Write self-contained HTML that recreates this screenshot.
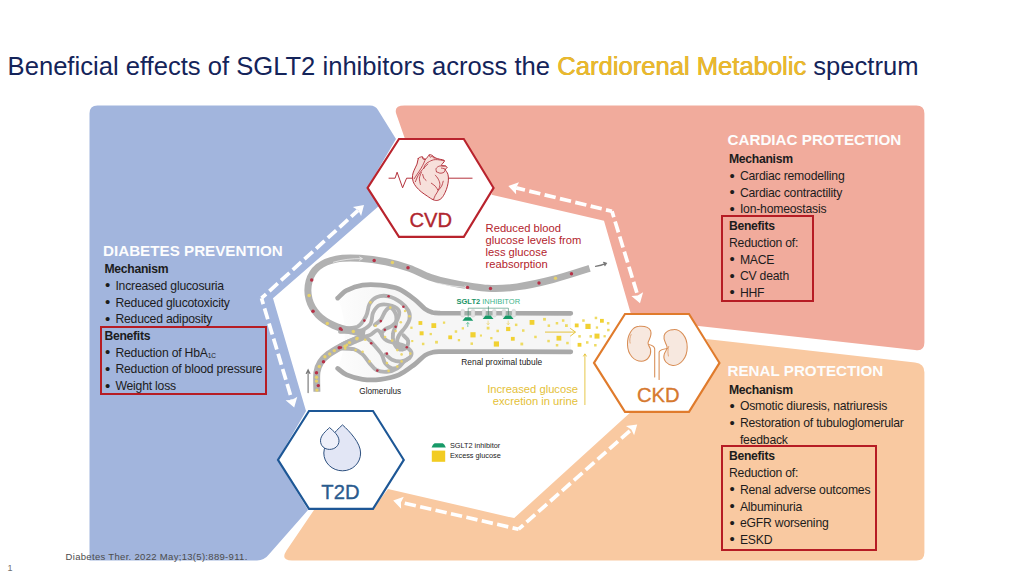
<!DOCTYPE html>
<html>
<head>
<meta charset="utf-8">
<title>SGLT2 inhibitors</title>
<style>
html,body{margin:0;padding:0;background:#fff;}
body{width:1024px;height:576px;overflow:hidden;position:relative;font-family:"Liberation Sans",sans-serif;}
svg{position:absolute;left:0;top:0;}
svg text{font-family:"Liberation Sans",sans-serif;}
.title{position:absolute;left:7.6px;top:51.1px;font-size:25.6px;color:#14245a;white-space:nowrap;line-height:30px;}
.title b{font-weight:normal;color:#eab92e;text-shadow:0.4px 0.4px 0.6px rgba(190,150,40,0.9),-0.2px 0 0 #f0c84e;}
.blk{position:absolute;font-size:12.2px;line-height:16.7px;color:#1c1c1c;white-space:nowrap;letter-spacing:-0.2px;}
.blk .h{font-weight:bold;font-size:15.2px;color:#fdfdfd;letter-spacing:0;display:block;line-height:19px;margin-left:-1.5px;}
.blk i{font-style:normal;display:inline-block;width:10.9px;font-size:15px;line-height:0;vertical-align:-0.5px;padding-left:0.5px;box-sizing:border-box;}
.blk b{letter-spacing:-0.3px;}
.blk b{font-weight:bold;}
.blk .b{display:block;padding-left:0;}
.redbox{position:absolute;border:2px solid #b61c24;box-sizing:border-box;}
.foot{position:absolute;left:65.6px;top:550.7px;font-size:9.5px;line-height:12px;color:#4c4c4c;letter-spacing:0.31px;white-space:nowrap;}
.pn{position:absolute;left:7.6px;top:562.8px;font-size:9px;line-height:10px;color:#707070;}
</style>
</head>
<body>
<svg width="1024" height="576" viewBox="0 0 1024 576">
<!-- BACKGROUND REGIONS -->
<g id="regions">
<path id="blue" fill="#a2b5dd" d="M97.500,105.500 H370 Q375.500,105.500 378,110 L396,139 L367.500,187.500 L380,205 L273,298.300 L306,411 L277.500,460 L308,510 L269.500,553.800 Q264.500,560.400 257,560.400 H89.500 V113.500 Q89.500,105.500 97.500,105.500 Z"/>
<path id="salmon" fill="#f1ab9c" d="M404.500,105.500 H916.400 Q924.400,105.500 924.400,113.500 V342.500 Q924.400,351.600 915,349.900 L640,319.500 L631.200,315 L604,220.700 L491.500,194.700 L494,187 L462,139 H405 L396.300,114 Q393.500,105.500 404.500,105.500 Z"/>
<path id="orange" fill="#f9c9a1" d="M314,510 L372,510 L388,489 L514.200,518.100 L630.300,412.500 L689,412 L719.500,362 L706,339 L915,362.500 Q924.400,363.500 924.400,372.200 V552.400 Q924.400,560.400 916.400,560.400 H292 Q280,560.400 286.500,550.500 Z"/>
</g>
<g id="arrows" fill="#fff" stroke="none">
<path d="M261.5,298.2 L358.1,210.4" fill="none" stroke="#fff" stroke-width="3.7" stroke-dasharray="11.4 4.4" stroke-dashoffset="5.2"/>
<path d="M261.5,298.2 L291.9,399.9" fill="none" stroke="#fff" stroke-width="3.7" stroke-dasharray="11.4 4.4" stroke-dashoffset="5.2"/>
<path d="M364.0,205.0 L361.1,215.9 L358.2,210.3 L352.9,206.9 Z"/>
<path d="M294.2,407.6 L285.6,400.2 L291.9,400.0 L297.3,396.8 Z"/>
<path d="M612.0,211.3 L516.1,187.9" fill="none" stroke="#fff" stroke-width="3.7" stroke-dasharray="11.4 4.4" stroke-dashoffset="5.2"/>
<path d="M612.0,211.3 L637.7,295.5" fill="none" stroke="#fff" stroke-width="3.7" stroke-dasharray="11.4 4.4" stroke-dashoffset="5.2"/>
<path d="M508.3,186.0 L519.0,182.3 L516.0,187.9 L516.1,194.2 Z"/>
<path d="M640.0,303.2 L631.4,295.9 L637.7,295.6 L643.1,292.3 Z"/>
<path d="M518.6,529.2 L401.0,502.4" fill="none" stroke="#fff" stroke-width="3.7" stroke-dasharray="11.4 4.4" stroke-dashoffset="5.2"/>
<path d="M518.6,529.2 L631.2,429.7" fill="none" stroke="#fff" stroke-width="3.7" stroke-dasharray="11.4 4.4" stroke-dashoffset="5.2"/>
<path d="M393.2,500.6 L403.8,496.8 L400.9,502.4 L401.1,508.7 Z"/>
<path d="M637.2,424.4 L634.1,435.3 L631.3,429.6 L626.0,426.1 Z"/>
</g>

<!-- NEPHRON -->
<g id="nephron" fill="none" stroke-linecap="round" stroke-linejoin="round">
<defs><linearGradient id="capg" gradientUnits="userSpaceOnUse" x1="338" y1="0" x2="392" y2="0"><stop offset="0" stop-color="#fdfdfd"/><stop offset="0.45" stop-color="#f9f9f9"/><stop offset="1" stop-color="#f6f6f6"/></linearGradient></defs>
<path d="M337.7,298.1 C339.2,296.8 342.7,292.5 346.8,290.3 C351.0,288.2 356.8,286.0 362.5,285.1 C368.1,284.3 374.6,284.5 380.7,285.1 C386.7,285.8 393.2,286.6 398.9,289.0 C404.5,291.4 410.2,296.1 414.5,299.4 C418.8,302.7 421.9,306.6 424.9,308.8 C427.9,311.0 430.2,311.7 432.7,312.5 C435.2,313.2 438.8,313.1 440.0,313.2 L570.8,313.3 L570.8,351.8 L440.0,351.5  C438.8,351.6 435.2,351.6 432.7,352.3 C430.2,352.9 427.9,353.3 424.9,355.4 C421.9,357.4 418.8,361.2 414.5,364.5 C410.2,367.7 404.5,372.4 398.9,374.9 C393.2,377.4 386.7,378.6 380.7,379.3 C374.6,380.1 368.1,380.1 362.5,379.3 C356.8,378.6 351.0,376.7 346.8,374.9 C342.7,373.1 339.2,369.5 337.7,368.4 Q352,333 337.7,298.1 Z" fill="url(#capg)" stroke="none"/>
<path d="M337.7,298.1 C339.2,296.8 342.7,292.5 346.8,290.3 C351.0,288.2 356.8,286.0 362.5,285.1 C368.1,284.3 374.6,284.5 380.7,285.1 C386.7,285.8 393.2,286.6 398.9,289.0 C404.5,291.4 410.2,296.1 414.5,299.4 C418.8,302.7 421.9,306.6 424.9,308.8 C427.9,311.0 430.2,311.7 432.7,312.5 C435.2,313.2 438.8,313.1 440.0,313.2 L570.8,313.3" stroke="#a9a9a9" stroke-width="4.7"/>
<path d="M337.7,368.4 C339.2,369.5 342.7,373.1 346.8,374.9 C351.0,376.7 356.8,378.6 362.5,379.3 C368.1,380.1 374.6,380.1 380.7,379.3 C386.7,378.6 393.2,377.4 398.9,374.9 C404.5,372.4 410.2,367.7 414.5,364.5 C418.8,361.2 421.9,357.4 424.9,355.4 C427.9,353.3 430.2,352.9 432.7,352.3 C435.2,351.6 438.8,351.6 440.0,351.5 L570.8,351.8" stroke="#a9a9a9" stroke-width="4.7"/>
<path d="M340.0,328.4 C342.9,328.1 353.0,328.7 357.4,326.7 C361.7,324.6 364.0,320.0 366.0,316.2 C368.1,312.5 367.8,307.3 369.5,304.1 C371.2,300.9 373.3,298.5 376.5,297.2 C379.6,295.9 384.6,295.4 388.6,296.3 C392.7,297.2 397.4,299.9 400.8,302.4 C404.1,304.8 407.1,308.1 408.6,311.0 C410.0,313.9 410.0,317.0 409.4,319.7 C408.9,322.5 406.8,324.9 405.1,327.5 C403.4,330.1 400.3,332.9 399.0,335.3 C397.7,337.8 396.7,340.0 397.3,342.3 C397.9,344.6 401.6,348.1 402.5,349.2" stroke="#b3b3b3" stroke-width="3.9"/>
<path d="M340.0,331.9 C343.2,331.7 354.0,332.3 359.1,331.0 C364.2,329.7 368.1,327.1 370.4,324.1 C372.7,321.0 371.4,316.0 373.0,312.8 C374.6,309.6 376.7,306.1 379.9,305.0 C383.1,303.8 388.9,304.8 392.1,305.8 C395.3,306.8 398.2,308.7 399.0,311.0 C399.9,313.4 398.4,317.3 397.3,319.7 C396.1,322.2 394.1,324.2 392.1,325.8 C390.1,327.4 386.9,327.8 385.1,329.3 C383.4,330.7 381.4,332.6 381.7,334.5 C382.0,336.4 384.6,339.1 386.9,340.6 C389.2,342.0 392.7,342.3 395.6,343.2 C398.4,344.0 401.6,344.3 404.2,345.8 C406.8,347.2 410.3,349.8 411.2,351.8 C412.0,353.9 411.2,356.3 409.4,357.9 C407.7,359.5 403.7,361.1 400.8,361.4 C397.9,361.7 394.6,360.8 392.1,359.7 C389.5,358.5 386.6,355.3 385.5,354.4" stroke="#b3b3b3" stroke-width="3.9"/>
<path d="M374.7,324.9 C375.7,324.1 379.0,322.0 380.8,319.7 C382.6,317.4 383.8,313.1 385.5,311.0 C387.1,309.0 389.0,307.0 390.7,307.6 C392.4,308.1 395.0,311.6 395.9,314.5 C396.8,317.4 396.4,321.7 395.9,324.9 C395.4,328.1 393.3,330.7 393.0,333.6 C392.6,336.5 392.8,339.7 393.8,342.3 C394.8,344.9 396.9,348.3 399.0,349.2 C401.1,350.2 404.8,349.3 406.3,347.8 C407.8,346.4 408.5,342.6 408.1,340.6 C407.6,338.5 404.1,336.2 403.4,335.3" stroke="#b3b3b3" stroke-width="3.9"/>
<path d="M340.0,345.8 C341.7,344.9 346.9,342.0 350.4,340.6 C353.9,339.1 357.9,337.4 360.8,337.1 C363.7,336.8 365.5,337.4 367.8,338.8 C370.1,340.3 372.4,343.2 374.7,345.8 C377.0,348.4 379.9,351.6 381.7,354.4 C383.4,357.3 383.4,360.8 385.1,363.1 C386.9,365.4 389.8,367.8 392.1,368.3 C394.4,368.9 397.1,367.8 399.0,366.6 C400.9,365.4 402.6,362.3 403.4,361.4" stroke="#b3b3b3" stroke-width="3.9"/>
<path d="M340.0,348.4 C342.3,348.5 350.1,348.2 353.9,349.2 C357.7,350.2 360.0,352.1 362.6,354.4 C365.2,356.8 367.2,360.5 369.5,363.1 C371.8,365.7 373.6,368.6 376.5,370.1 C379.4,371.5 383.4,372.1 386.9,371.8 C390.3,371.5 394.4,370.1 397.3,368.3 C400.2,366.6 402.2,363.1 404.2,361.4 C406.3,359.7 408.6,358.5 409.4,357.9" stroke="#b3b3b3" stroke-width="3.9"/>
<path d="M360.8,337.1 C362.3,336.8 366.8,336.5 369.5,335.3 C372.3,334.2 375.3,330.3 377.3,330.1 C379.4,330.0 380.9,333.8 381.7,334.5" stroke="#b3b3b3" stroke-width="3.9"/>
<path d="M365.1,333.3 C362.9,332.9 357.2,332.5 352.0,331.2 C346.8,329.9 339.5,328.2 333.8,325.5 C328.2,322.8 322.3,319.4 318.2,315.1 C314.1,310.7 310.6,305.1 309.1,299.4 C307.6,293.8 307.6,286.6 309.1,281.2 C310.6,275.8 313.7,270.6 318.2,266.9 C322.8,263.2 329.5,260.5 336.4,259.1 C343.4,257.7 351.6,257.9 359.8,258.3 C368.1,258.8 377.6,260.1 385.9,261.7 C394.1,263.4 401.9,265.6 409.3,268.2 C416.7,270.8 423.4,275.0 430.1,277.3 C436.8,279.7 439.9,280.6 449.5,282.4 C459.1,284.2 476.5,287.6 487.8,288.3 C499.1,289.1 506.5,288.4 517.3,286.9 C528.1,285.4 540.7,282.6 552.7,279.5 C564.8,276.4 583.5,270.2 589.6,268.3" stroke="#b1b1b1" stroke-width="7" stroke-linecap="butt"/>
<path d="M316.9,391.8 C316.9,388.6 316.3,377.3 316.9,372.3 C317.6,367.3 318.9,364.9 320.8,361.9 C322.8,358.9 325.2,356.7 328.6,354.1 C332.1,351.5 337.1,348.7 341.6,346.3 C346.2,343.9 352.0,341.5 355.9,339.8 C359.8,338.0 363.5,336.5 365.1,335.9" stroke="#b1b1b1" stroke-width="7" stroke-linecap="butt"/>
<path d="M333.5,262.2 Q346,258.4 362,258.6 M359.6,257 L362.4,258.6 L359.6,260.2" stroke="#ececec" stroke-width="0.8"/>
<path d="M437,283.2 Q452,286.5 467,287.6 M465,286 L467.5,287.7 L464.8,288.8" stroke="#ececec" stroke-width="0.8"/>
</g>
<g id="dots" opacity="0.9">
<circle cx="311.7" cy="279.9" r="1.75" fill="#b8243c"/>
<circle cx="313.0" cy="311.2" r="1.75" fill="#b8243c"/>
<circle cx="340.3" cy="328.8" r="1.75" fill="#b8243c"/>
<circle cx="374.2" cy="260.4" r="1.75" fill="#b8243c"/>
<circle cx="408.0" cy="267.7" r="1.75" fill="#b8243c"/>
<circle cx="309.1" cy="295.5" r="1.75" fill="#ecd564"/>
<circle cx="327.3" cy="323.6" r="1.75" fill="#ecd564"/>
<circle cx="353.3" cy="331.4" r="1.75" fill="#ecd564"/>
<circle cx="392.4" cy="262.5" r="1.75" fill="#ecd564"/>
<circle cx="318.3" cy="385.6" r="1.70" fill="#b8243c"/>
<circle cx="316.5" cy="372.8" r="1.70" fill="#b8243c"/>
<circle cx="323.5" cy="361.7" r="1.70" fill="#b8243c"/>
<circle cx="339.2" cy="347.8" r="1.70" fill="#b8243c"/>
<circle cx="316.9" cy="390.1" r="1.70" fill="#ecd564"/>
<circle cx="316.5" cy="381.1" r="1.70" fill="#ecd564"/>
<circle cx="316.5" cy="377.3" r="1.70" fill="#ecd564"/>
<circle cx="319.3" cy="366.5" r="1.70" fill="#ecd564"/>
<circle cx="324.9" cy="356.8" r="1.70" fill="#ecd564"/>
<circle cx="329.7" cy="354.0" r="1.70" fill="#ecd564"/>
<circle cx="334.3" cy="350.6" r="1.70" fill="#ecd564"/>
<circle cx="345.0" cy="346.2" r="1.70" fill="#ecd564"/>
<circle cx="349.5" cy="342.6" r="1.70" fill="#ecd564"/>
<circle cx="356.8" cy="338.8" r="1.70" fill="#ecd564"/>
<circle cx="467.5" cy="287.4" r="1.70" fill="#b8243c"/>
<circle cx="490.5" cy="288.5" r="1.70" fill="#b8243c"/>
<circle cx="539.0" cy="283.0" r="1.70" fill="#b8243c"/>
<circle cx="571.5" cy="273.8" r="1.70" fill="#b8243c"/>
<circle cx="555.5" cy="278.3" r="1.70" fill="#ecd564"/>
<circle cx="388.6" cy="296.3" r="1.30" fill="#b8243c"/>
<circle cx="403.4" cy="306.7" r="1.30" fill="#b8243c"/>
<circle cx="364.3" cy="320.6" r="1.30" fill="#b8243c"/>
<circle cx="380.8" cy="321.1" r="1.30" fill="#b8243c"/>
<circle cx="395.6" cy="326.7" r="1.30" fill="#b8243c"/>
<circle cx="384.8" cy="329.8" r="1.30" fill="#b8243c"/>
<circle cx="341.7" cy="329.8" r="1.30" fill="#b8243c"/>
<circle cx="371.2" cy="343.2" r="1.30" fill="#b8243c"/>
<circle cx="406.8" cy="347.2" r="1.30" fill="#b8243c"/>
<circle cx="386.9" cy="353.6" r="1.30" fill="#b8243c"/>
<circle cx="377.3" cy="370.6" r="1.30" fill="#b8243c"/>
<circle cx="340.9" cy="347.5" r="1.30" fill="#b8243c"/>
<circle cx="370.4" cy="302.4" r="1.30" fill="#ecd564"/>
<circle cx="390.3" cy="307.6" r="1.30" fill="#ecd564"/>
<circle cx="405.1" cy="311.0" r="1.30" fill="#ecd564"/>
<circle cx="409.4" cy="316.2" r="1.30" fill="#ecd564"/>
<circle cx="375.6" cy="325.8" r="1.30" fill="#ecd564"/>
<circle cx="400.8" cy="322.3" r="1.30" fill="#ecd564"/>
<circle cx="395.6" cy="331.0" r="1.30" fill="#ecd564"/>
<circle cx="385.1" cy="337.1" r="1.30" fill="#ecd564"/>
<circle cx="357.4" cy="338.0" r="1.30" fill="#ecd564"/>
<circle cx="346.9" cy="344.9" r="1.30" fill="#ecd564"/>
<circle cx="365.2" cy="339.7" r="1.30" fill="#ecd564"/>
<circle cx="392.1" cy="340.6" r="1.30" fill="#ecd564"/>
<circle cx="397.3" cy="350.1" r="1.30" fill="#ecd564"/>
<circle cx="401.6" cy="354.4" r="1.30" fill="#ecd564"/>
<circle cx="410.3" cy="353.6" r="1.30" fill="#ecd564"/>
<circle cx="362.6" cy="351.8" r="1.30" fill="#ecd564"/>
<circle cx="369.5" cy="361.4" r="1.30" fill="#ecd564"/>
<circle cx="386.9" cy="363.1" r="1.30" fill="#ecd564"/>
<circle cx="397.3" cy="366.6" r="1.30" fill="#ecd564"/>
<circle cx="401.6" cy="361.4" r="1.30" fill="#ecd564"/>
<circle cx="388.6" cy="370.9" r="1.30" fill="#ecd564"/>
<circle cx="345.2" cy="348.4" r="1.30" fill="#ecd564"/>
<circle cx="355.6" cy="350.1" r="1.30" fill="#ecd564"/>
</g>
<g id="squares">
<rect x="418.5" y="321.1" width="3.8" height="3.8" fill="#f1d132"/>
<rect x="431.4" y="323.2" width="4.8" height="4.8" fill="#f1d132"/>
<rect x="442.9" y="321.5" width="2.3" height="2.3" fill="#eedb62"/>
<rect x="410.3" y="326.6" width="2.3" height="2.3" fill="#eedb62"/>
<rect x="419.6" y="331.3" width="4.0" height="4.0" fill="#f1d132"/>
<rect x="429.6" y="332.9" width="2.3" height="2.3" fill="#eedb62"/>
<rect x="411.2" y="340.0" width="2.1" height="2.1" fill="#eedb62"/>
<rect x="421.9" y="342.7" width="2.5" height="2.5" fill="#eedb62"/>
<rect x="435.1" y="340.8" width="2.8" height="2.8" fill="#eedb62"/>
<rect x="448.3" y="335.4" width="3.8" height="3.8" fill="#f1d132"/>
<rect x="454.7" y="330.3" width="2.5" height="2.5" fill="#eedb62"/>
<rect x="457.8" y="339.0" width="2.3" height="2.3" fill="#eedb62"/>
<rect x="461.7" y="327.2" width="2.3" height="2.3" fill="#eedb62"/>
<rect x="470.4" y="332.2" width="5.2" height="5.2" fill="#f1d132"/>
<rect x="470.5" y="342.4" width="2.5" height="2.5" fill="#eedb62"/>
<rect x="479.9" y="334.5" width="2.1" height="2.1" fill="#eedb62"/>
<rect x="486.7" y="326.7" width="2.8" height="2.8" fill="#eedb62"/>
<rect x="490.2" y="337.0" width="2.3" height="2.3" fill="#eedb62"/>
<rect x="496.4" y="329.7" width="2.5" height="2.5" fill="#eedb62"/>
<rect x="493.8" y="341.4" width="5.2" height="5.2" fill="#f1d132"/>
<rect x="506.1" y="326.9" width="4.2" height="4.2" fill="#f1d132"/>
<rect x="510.9" y="336.9" width="3.8" height="3.8" fill="#f1d132"/>
<rect x="514.9" y="323.6" width="2.5" height="2.5" fill="#eedb62"/>
<rect x="522.0" y="329.3" width="2.5" height="2.5" fill="#eedb62"/>
<rect x="520.4" y="342.6" width="2.8" height="2.8" fill="#eedb62"/>
<rect x="529.6" y="320.0" width="4.8" height="4.8" fill="#f1d132"/>
<rect x="534.2" y="335.7" width="2.5" height="2.5" fill="#eedb62"/>
<rect x="543.1" y="317.9" width="2.8" height="2.8" fill="#eedb62"/>
<rect x="547.6" y="324.4" width="2.5" height="2.5" fill="#eedb62"/>
<rect x="547.3" y="339.8" width="2.5" height="2.5" fill="#eedb62"/>
<rect x="555.7" y="322.0" width="2.5" height="2.5" fill="#eedb62"/>
<rect x="556.5" y="335.8" width="4.8" height="4.8" fill="#f1d132"/>
<rect x="555.8" y="344.0" width="2.5" height="2.5" fill="#eedb62"/>
<rect x="561.9" y="319.3" width="2.5" height="2.5" fill="#eedb62"/>
<rect x="565.0" y="324.2" width="2.8" height="2.8" fill="#eedb62"/>
<rect x="566.2" y="341.8" width="2.5" height="2.5" fill="#eedb62"/>
<rect x="574.8" y="323.5" width="3.8" height="3.8" fill="#f1d132"/>
<rect x="578.3" y="335.1" width="2.5" height="2.5" fill="#eedb62"/>
<rect x="577.6" y="342.9" width="3.8" height="3.8" fill="#f1d132"/>
<rect x="582.2" y="319.3" width="2.5" height="2.5" fill="#eedb62"/>
<rect x="585.4" y="323.8" width="5.2" height="5.2" fill="#f1d132"/>
<rect x="586.0" y="341.2" width="2.5" height="2.5" fill="#eedb62"/>
<rect x="589.5" y="335.1" width="2.5" height="2.5" fill="#eedb62"/>
<rect x="594.7" y="316.7" width="2.5" height="2.5" fill="#eedb62"/>
<rect x="595.8" y="326.4" width="2.3" height="2.3" fill="#eedb62"/>
<rect x="594.5" y="333.6" width="5.0" height="5.0" fill="#f1d132"/>
<rect x="594.1" y="344.0" width="2.5" height="2.5" fill="#eedb62"/>
<rect x="600.0" y="318.9" width="3.8" height="3.8" fill="#f1d132"/>
<rect x="603.5" y="335.1" width="2.3" height="2.3" fill="#eedb62"/>
<rect x="606.9" y="322.0" width="2.5" height="2.5" fill="#eedb62"/>
<rect x="607.1" y="328.8" width="2.5" height="2.5" fill="#eedb62"/>
</g>
<g id="transp">
<rect x="460.8" y="309.2" width="3.8" height="8" rx="1.7" fill="#e1e1e1" stroke="#c9c9c9" stroke-width="0.3"/>
<rect x="471.1" y="309.2" width="3.8" height="8" rx="1.7" fill="#e1e1e1" stroke="#c9c9c9" stroke-width="0.3"/>
<rect x="482.1" y="309.2" width="3.8" height="8" rx="1.7" fill="#e1e1e1" stroke="#c9c9c9" stroke-width="0.3"/>
<rect x="492.4" y="309.2" width="3.8" height="8" rx="1.7" fill="#e1e1e1" stroke="#c9c9c9" stroke-width="0.3"/>
<rect x="502.1" y="309.2" width="3.8" height="8" rx="1.7" fill="#e1e1e1" stroke="#c9c9c9" stroke-width="0.3"/>
<rect x="511.9" y="309.2" width="3.8" height="8" rx="1.7" fill="#e1e1e1" stroke="#c9c9c9" stroke-width="0.3"/>
<rect x="464.4" y="311.6" width="6.7" height="3.6" fill="#9fb5aa" opacity="0.55"/>
<rect x="485.7" y="311.6" width="6.7" height="3.6" fill="#9fb5aa" opacity="0.55"/>
<rect x="505.7" y="311.6" width="6.2" height="3.6" fill="#9fb5aa" opacity="0.55"/>
<path d="M468.2,317.5 V308.2 H508.4 V315.7 M488.4,306.2 V315.7" fill="none" stroke="#2b7d5e" stroke-width="0.55"/>
<path d="M465.2,317.3 L470.4,317.3 L473.2,320.7 L462.4,320.7 Z" fill="#179a68"/>
<path d="M485.5,315.6 L490.7,315.6 L493.5,319.0 L482.7,319.0 Z" fill="#179a68"/>
<path d="M505.6,315.6 L510.8,315.6 L513.6,319.0 L502.8,319.0 Z" fill="#179a68"/>
<path d="M467.8,327 V322.6 M466.2,324.2 L467.8,322.4 L469.4,324.2" fill="none" stroke="#2aa877" stroke-width="0.6"/>
<path d="M488.1,320.6 V324.6 M486.7,323.2 L488.1,324.8 L489.5,323.2 M508.2,320.6 V324.6 M506.8,323.2 L508.2,324.8 L509.6,323.2" fill="none" stroke="#e6c84a" stroke-width="0.55"/>
</g>
<g id="yarrows" fill="none" stroke="#e4c135" stroke-width="0.95">
<path d="M545,332.1 H575.3 M570.2,328.3 L575.5,332.1 L570.2,336.2"/>
<path d="M584.9,405 V354 M583.3,356.4 L584.9,353.8 L586.5,356.4" stroke-width="0.9"/>
</g>
<g id="garrows" fill="none" stroke="#777" stroke-width="1.15" stroke-linecap="round">
<path d="M308.1,392.6 V370.6 M306.3,373.4 L308.1,369.8 L309.9,373.4"/>
<path d="M595.5,266.4 Q601,265.6 606,263.4 M603.6,262.4 L606.4,263.3 L604.8,265.6"/>
</g>
<g id="legend">
<path d="M434.6,443.2 H442.8 Q444.6,444 445.8,447.6 H431.6 Q432.8,444 434.6,443.2 Z" fill="#179a68"/>
<rect x="431.8" y="450.6" width="13.4" height="11.2" fill="#f2cc22"/>
</g>

<!-- /NEPHRON -->
<!-- CENTERTEXT -->
<g id="ctext">
<g font-size="11.2" fill="#b3242d">
<text x="485.6" y="232.4">Reduced blood</text>
<text x="485.6" y="244.3">glucose levels from</text>
<text x="485.6" y="256.2">less glucose</text>
<text x="485.6" y="268.1">reabsorption</text>
</g>
<g font-size="11.2" fill="#e4c138" text-anchor="end">
<text x="578" y="393.2">Increased glucose</text>
<text x="578" y="405">excretion in urine</text>
</g>
<text x="456.5" y="303.9" font-size="7.8" textLength="63.6" lengthAdjust="spacingAndGlyphs" fill="#3bb48a"><tspan font-weight="bold" fill="#1a9467">SGLT2</tspan> INHIBITOR</text>
<text x="461.3" y="364.5" font-size="8.37" fill="#222">Renal proximal tubule</text>
<text x="359.3" y="394.2" font-size="8.2" fill="#222">Glomerulus</text>
<text x="450" y="447.6" font-size="7.3" fill="#222">SGLT2 inhibitor</text>
<text x="450" y="458.4" font-size="7.3" fill="#222">Excess glucose</text>
</g>
<!-- /CENTERTEXT -->
<!-- HEXAGONS -->
<g id="hexes" stroke-linejoin="miter">
<path d="M367.600,187.900 L399,139 H463.800 L493.600,187.900 L463.800,236.900 H399 Z" fill="#fff" stroke="#b9232d" stroke-width="2.1"/>
<path d="M594,362.900 L625,314 H689 L719.500,362.900 L689,411.900 H625 Z" fill="#fff" stroke="#e07b2c" stroke-width="2.1"/>
<path d="M278,459.900 L309,411 H373 L403.800,459.900 L373,508.900 H309 Z" fill="#fff" stroke="#1d5796" stroke-width="2.1"/>
</g>
<!-- ICONS -->
<g id="heart" fill="none" stroke="#b4323c" stroke-width="1" stroke-linecap="round" stroke-linejoin="round">
<path d="M389.0,178.2 L395.1,178.2 L397.1,172.2 L402.6,187.8 L406.6,178.2 L413.0,178.2 M448.2,178.2 L472.1,178.2"/>
<path fill="#f7e0db" d="M418.2,158.6 C417.7,159.7 417.7,162.2 417.0,164.1 C416.3,166.0 414.9,168.2 414.2,170.1 C413.4,172.1 412.6,173.8 412.5,175.7 C412.3,177.6 412.6,179.9 413.2,181.7 C413.8,183.6 414.9,185.1 416.2,186.8 C417.5,188.4 419.4,190.2 421.2,191.8 C423.1,193.3 425.3,194.8 427.3,196.1 C429.3,197.5 431.6,199.1 433.3,199.8 C435.1,200.5 436.4,200.7 437.8,200.3 C439.3,200.0 440.6,199.2 441.9,197.8 C443.1,196.5 444.3,194.2 445.2,192.3 C446.1,190.4 446.9,188.3 447.4,186.2 C447.9,184.2 448.3,182.2 448.4,180.2 C448.5,178.2 448.4,175.9 447.9,174.2 C447.4,172.4 445.5,170.7 445.4,169.6 C445.3,168.6 447.2,168.2 447.2,167.6 C447.2,167.0 446.4,166.3 445.4,165.9 C444.4,165.5 441.5,166.2 441.4,165.3 C441.2,164.5 444.7,161.8 444.4,160.8 C444.1,159.7 440.9,159.6 439.4,159.1 C437.8,158.6 436.5,158.5 435.3,157.9 C434.2,157.3 433.3,156.1 432.3,155.5 C431.3,155.0 430.2,154.4 429.3,154.8 C428.4,155.3 427.5,157.3 426.8,158.1 C426.0,158.8 425.5,159.5 424.8,159.3 C424.0,159.1 423.2,157.2 422.4,156.9 C421.7,156.5 420.7,157.0 420.0,157.3 C419.3,157.5 418.7,157.4 418.2,158.6 Z"/>
<path stroke-width="0.85" d="M423.8,168.6 C424.0,168.0 424.3,165.8 425.3,164.6 C426.2,163.4 427.6,162.4 429.3,161.6 C431.0,160.7 432.8,159.7 435.3,159.6 C437.8,159.4 442.9,160.5 444.4,160.7 M425.5,158.9 C425.2,159.6 424.5,161.6 423.8,163.1 C423.0,164.6 422.3,166.3 421.2,168.1 C420.1,170.0 418.4,172.4 417.2,174.2 C416.0,175.9 414.7,177.9 414.2,178.7 M427.8,164.1 C426.9,165.0 424.0,167.8 422.4,169.6 C420.8,171.5 419.4,173.4 418.2,175.4 C417.0,177.4 415.9,180.7 415.4,181.7 M421.4,172.2 C421.1,173.2 419.6,176.1 419.4,178.2 C419.3,180.2 420.3,183.4 420.4,184.4 M422.7,174.4 C422.9,175.0 423.3,177.2 423.9,178.2 C424.4,179.2 425.7,180.0 426.1,180.4 M436.5,171.7 C436.5,171.2 435.7,169.6 436.1,168.6 C436.6,167.7 437.8,166.5 439.4,166.1 C440.9,165.7 444.4,166.1 445.4,166.1 M445.2,169.3 C445.0,169.8 444.8,171.7 443.9,172.4 C443.0,173.0 441.1,173.3 439.9,173.2 C438.6,173.0 437.1,171.9 436.5,171.7 M441.4,168.1 C441.8,168.2 443.2,168.4 443.9,168.6 C444.6,168.8 445.1,169.2 445.4,169.3 M435.3,175.2 C435.8,175.8 437.6,177.7 438.3,179.2 C439.1,180.7 439.9,182.6 439.9,184.4 C439.9,186.3 439.1,188.5 438.3,190.3 C437.6,192.1 436.1,193.8 435.3,195.3 C434.5,196.9 433.8,198.8 433.5,199.5 M431.3,183.2 C432.0,183.7 434.2,185.1 435.3,186.2 C436.5,187.4 437.6,189.6 438.0,190.3 M443.2,181.2 C442.9,182.1 442.3,184.9 441.6,186.2 C440.9,187.6 439.4,188.9 439.0,189.5 M422.4,157.1 C422.5,157.4 422.7,158.7 423.0,159.1 C423.4,159.4 424.5,159.2 424.8,159.3 M429.3,155.0 C429.5,155.4 430.0,157.1 430.5,157.3 C431.0,157.4 431.8,155.8 432.3,155.9 C432.8,156.0 433.0,157.5 433.5,157.9 C434.0,158.2 435.0,157.9 435.3,157.9"/>
</g>
<g id="kidneys" fill="none" stroke="#d88d55" stroke-width="1.05" stroke-linecap="round" stroke-linejoin="round">
<path fill="#f7e8df" d="M639.0,326.3 C632.4,326.6 627.1,334.9 627.5,344.8 C627.8,354.7 634.1,361.3 641.5,361.3 C647.3,361.3 651.4,355.5 650.6,349.7 C650.2,346.4 647.3,345.6 648.1,342.3 C649.2,339.0 652.2,335.7 650.6,330.7 C649.2,327.4 644.8,325.9 639.0,326.3 Z"/>
<path fill="#f7e8df" d="M673.7,329.6 C680.3,329.1 687.2,336.5 687.2,347.2 C687.2,358.0 680.3,365.9 672.8,365.4 C667.1,364.9 662.9,360.4 664.1,354.7 C664.7,351.4 667.4,350.5 667.1,347.2 C666.4,343.1 662.9,340.6 664.1,335.7 C665.1,331.6 669.5,329.6 673.7,329.6 Z"/>
<path d="M648.6,344.4 C651.4,344.8 654.3,346.1 654.7,348.9 L654.7,376.9 M667.4,348.4 C663.8,348.9 659.6,349.7 659.1,352.2 L659.1,379.4"/>
<path stroke-width="0.7" d="M631.1,334.5 C629.8,337.3 629.4,340.6 630.1,343.1 M668.7,346.4 C667.7,349.7 667.7,353.0 668.4,356.0"/>
</g>
<g id="drops" stroke="#2d507f" stroke-width="1" stroke-linejoin="round">
<path fill="#e2e6f5" d="M342.5,424.9 C349.4,431.2 360.6,442.8 360.6,453.0 C360.6,462.9 352.7,470.8 342.5,470.8 C332.2,470.8 323.8,462.9 323.8,453.0 C323.8,442.8 335.5,431.2 342.5,424.9 Z"/>
<path fill="#eef0fa" d="M329.6,427.6 C333.2,430.9 339.0,435.3 339.0,440.8 C339.0,445.7 334.9,449.4 329.6,449.4 C324.3,449.4 320.5,445.7 320.5,440.8 C320.5,435.3 326.0,430.9 329.6,427.6 Z"/>
</g>

<!-- /ICONS -->
<g id="hexlabels" font-size="20.2" text-anchor="middle" stroke-width="0.35">
<text x="430.8" y="226.6" fill="#b0262f" stroke="#b0262f">CVD</text>
<text x="658.2" y="402" fill="#d6792f" stroke="#d6792f">CKD</text>
<text x="340.4" y="499.2" fill="#2a5b8e" stroke="#2a5b8e">T2D</text>
</g>
</svg>

<div class="title">Beneficial effects of SGLT2 inhibitors across the <b>Cardiorenal Metabolic</b> spectrum</div>

<div class="blk" style="left:104.5px;top:241px;"><span class="h" style="line-height:20.2px">DIABETES PREVENTION</span><b>Mechanism</b><br><i>•</i>Increased glucosuria<br><i>•</i>Reduced glucotoxicity<br><i>•</i>Reduced adiposity<br><b>Benefits</b><br><i>•</i>Reduction of HbA<span style="font-size:6.5px;line-height:0;vertical-align:-1px;letter-spacing:0">1C</span><br><i>•</i>Reduction of blood pressure<br><i>•</i>Weight loss</div>
<div class="redbox" style="left:100.3px;top:325.8px;width:167px;height:69.2px;"></div>

<div class="blk" style="left:729px;top:129px;"><span class="h" style="line-height:22.3px">CARDIAC PROTECTION</span><b>Mechanism</b><br><i>•</i>Cardiac remodelling<br><i>•</i>Cardiac contractility<br><i>•</i>Ion-homeostasis<br><b>Benefits</b><br>Reduction of:<br><i>•</i>MACE<br><i>•</i>CV death<br><i>•</i>HHF</div>
<div class="redbox" style="left:721px;top:215.2px;width:92.8px;height:86.8px;"></div>

<div class="blk" style="left:729px;top:360px;"><span class="h" style="line-height:21.6px">RENAL PROTECTION</span><b>Mechanism</b><br><i>•</i>Osmotic diuresis, natriuresis<br><i>•</i>Restoration of tubuloglomerular<br><i></i>feedback<br><b>Benefits</b><br>Reduction of:<br><i>•</i>Renal adverse outcomes<br><i>•</i>Albuminuria<br><i>•</i>eGFR worsening<br><i>•</i>ESKD</div>
<div class="redbox" style="left:721px;top:445.3px;width:156px;height:105.8px;"></div>

<div class="foot">Diabetes Ther. 2022 May;13(5):889-911.</div>
<div class="pn">1</div>
</body>
</html>
